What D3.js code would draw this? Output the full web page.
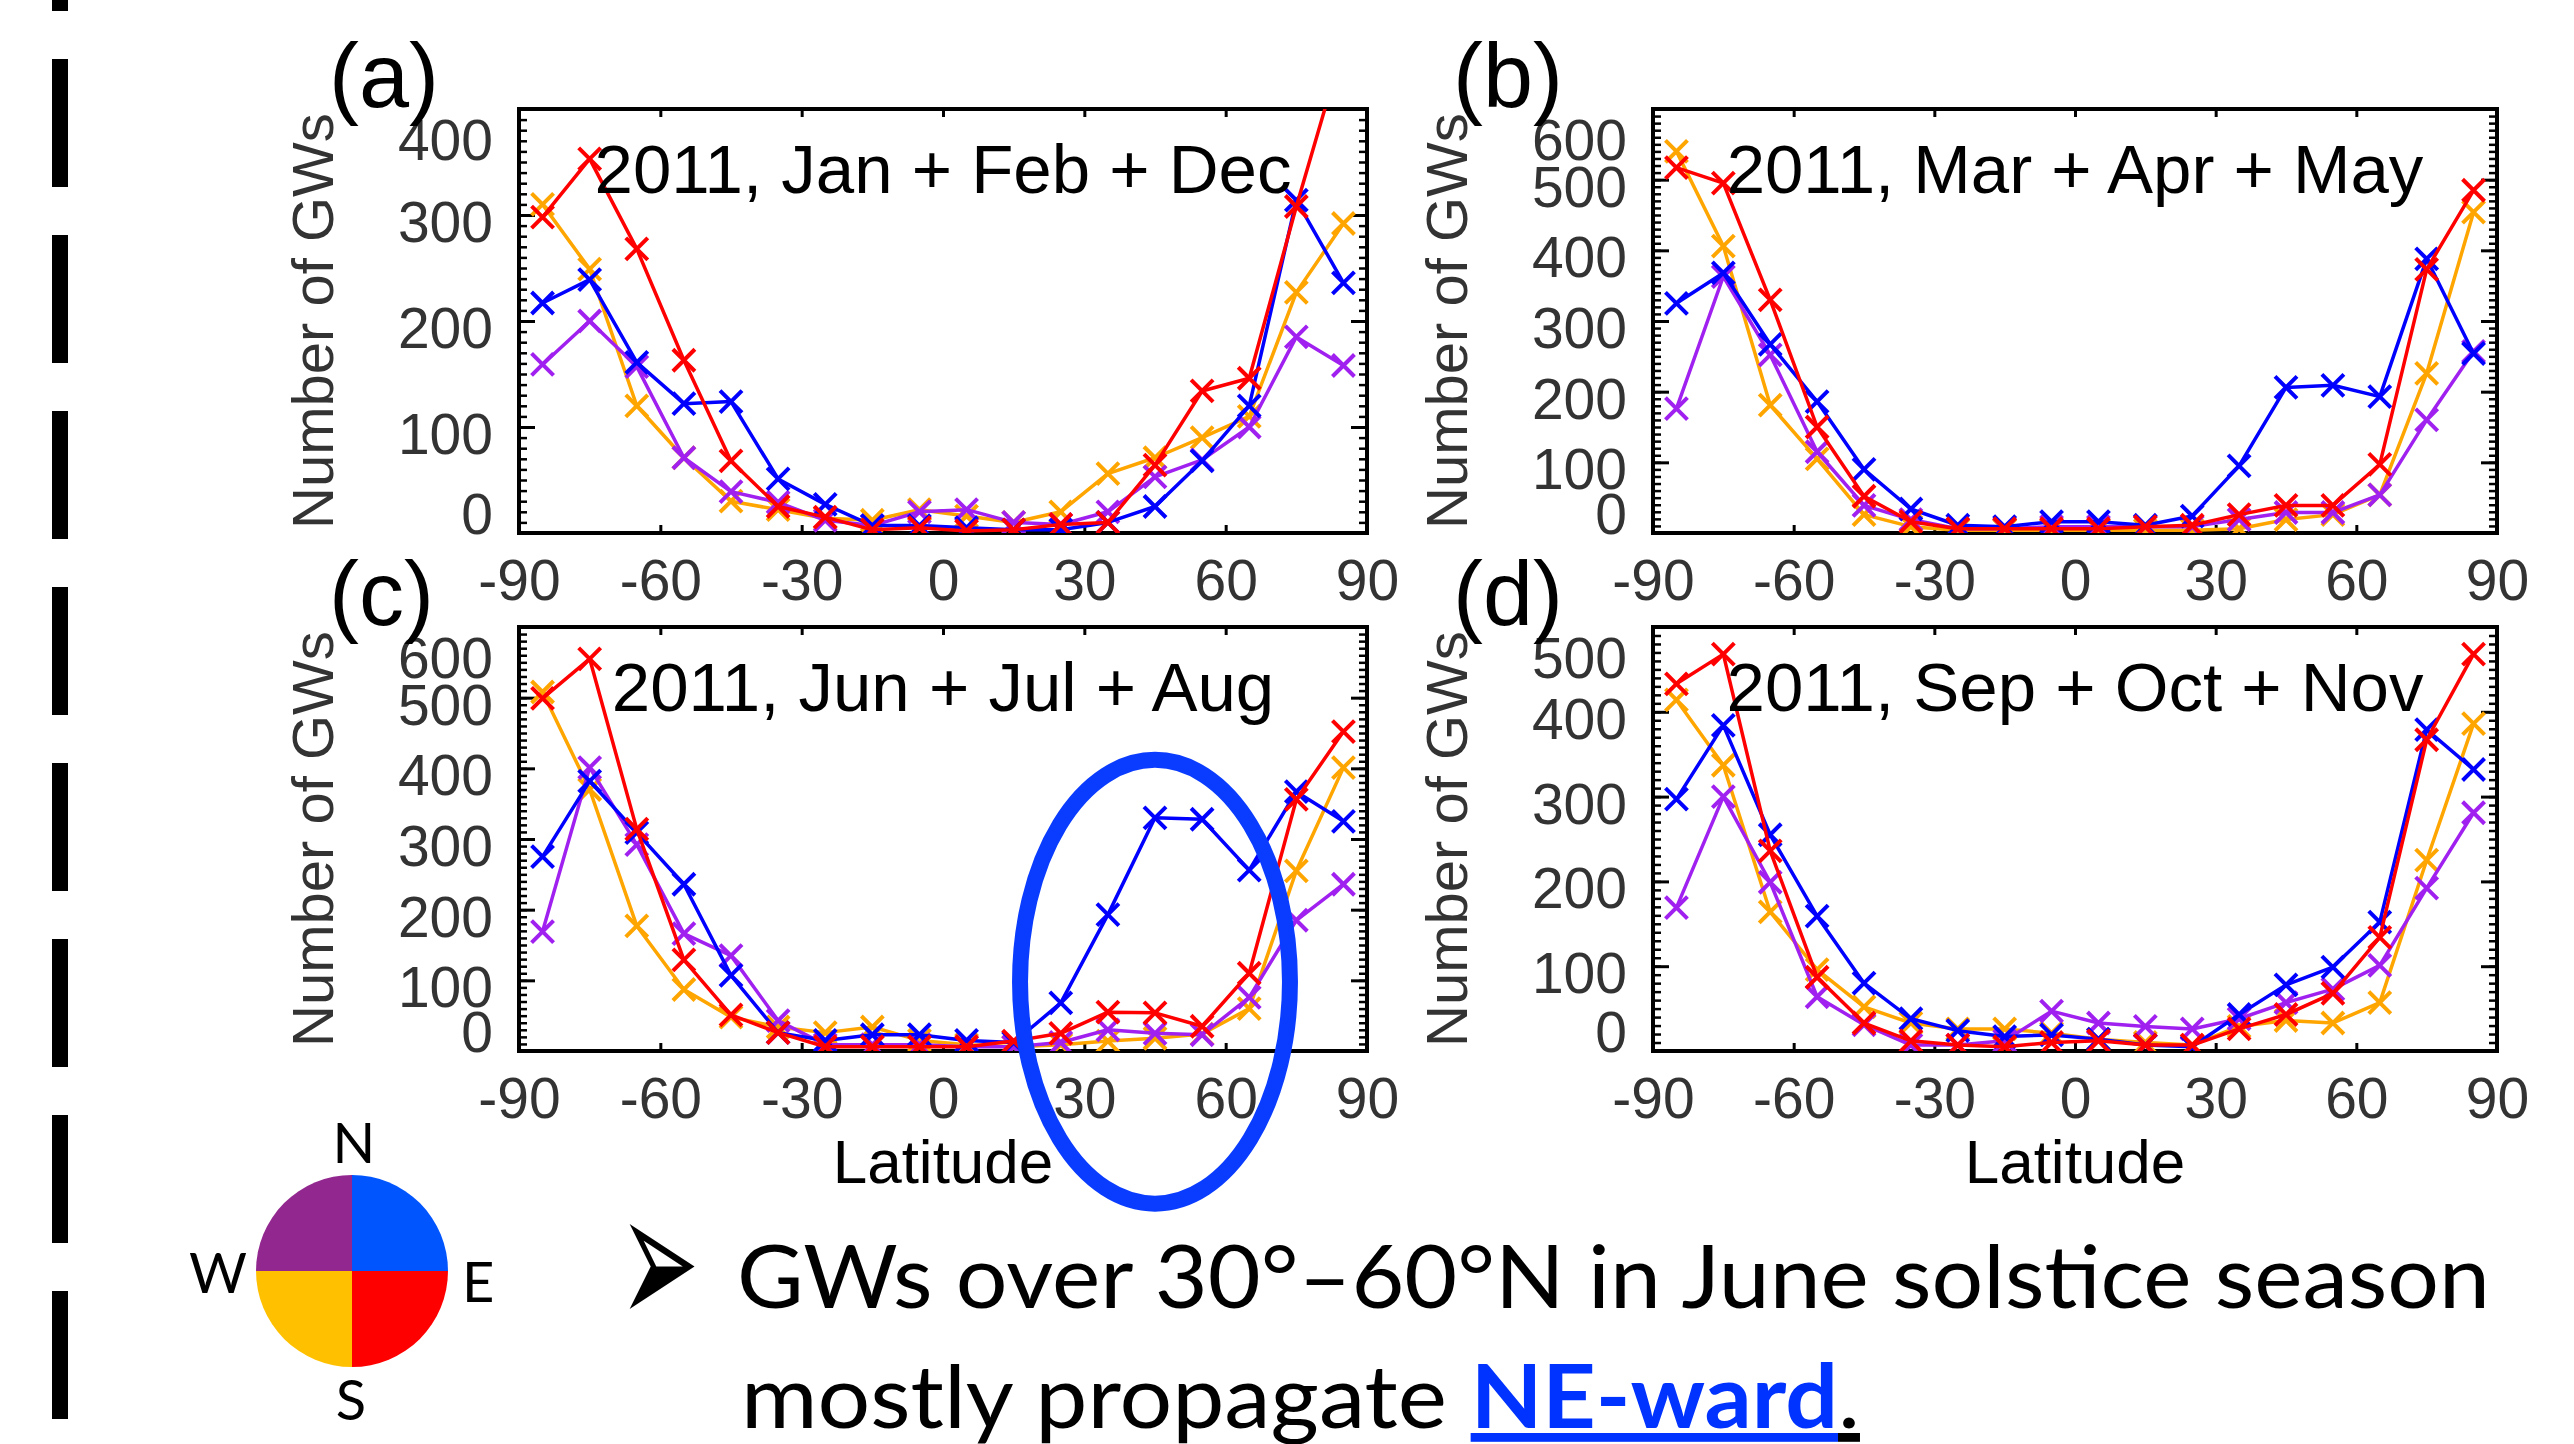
<!DOCTYPE html>
<html><head><meta charset="utf-8">
<script src="https://cdn.jsdelivr.net/npm/d3@7"></script>
<style>html,body{margin:0;padding:0;background:#fff;overflow:hidden} svg{display:block}</style>
</head><body>
<script>
// ---------- data ----------
const latitudes = [-85,-75,-65,-55,-45,-35,-25,-15,-5,5,15,25,35,45,55,65,75,85];
const xTickValues = [-90,-60,-30,0,30,60,90];
const xTickLabels = ["-90","-60","-30","0","30","60","90"];
const panelLetters = ["(a)","(b)","(c)","(d)"];
const panelTitles = ["2011, Jan + Feb + Dec","2011, Mar + Apr + May","2011, Jun + Jul + Aug","2011, Sep + Oct + Nov"];
const panelYMax = [400,600,600,500];
const seriesNames = ["SW","NW","NE","SE"];
const seriesColors = ["#FFA500","#A020F0","#0000FF","#FF0000"];

// (a) Jan + Feb + Dec
const aSW = [310,249,120,71,30,22,14,12,22,16,10,20,56,71,90,110,227,292];
const aNW = [159,200,157,71,39,29,12,7,20,22,10,8,20,53,69,100,185,158];
const aNE = [217,239,161,122,124,51,27,7,7,5,3,3,10,25,68,120,314,236];
const aSE = [298,353,268,163,68,25,15,3,5,2,3,8,10,64,134,146,308,460];
// (b) Mar + Apr + May
const bSW = [540,406,181,105,26,9,4,4,4,4,4,4,6,19,26,54,226,454];
const bNW = [176,363,252,115,39,19,6,6,9,9,9,9,19,29,29,54,160,257];
const bNE = [325,368,267,186,90,34,11,9,16,16,11,24,95,206,209,193,388,254];
const bSE = [517,495,330,150,52,16,6,6,6,6,9,11,26,39,39,97,373,485];
// (c) Jun + Jul + Aug
const cSW = [508,370,177,87,48,34,26,34,15,9,6,9,14,18,24,60,255,401];
const cNW = [169,401,292,166,135,43,9,9,9,6,6,12,30,25,23,76,185,236];
const cNE = [275,382,309,236,107,26,15,23,23,15,12,68,193,330,328,256,367,325];
const cSE = [499,555,314,129,51,26,6,6,6,6,14,25,55,54,35,110,356,452];
// (d) Sep + Oct + Nov
const dSW = [414,337,164,96,52,33,26,26,21,14,10,7,29,36,33,57,225,386];
const dNW = [169,300,199,64,31,7,7,12,47,33,29,26,38,57,73,101,192,281];
const dNE = [297,384,255,159,80,38,24,17,19,14,7,5,43,78,99,152,379,332];
const dSE = [433,468,236,87,33,12,7,5,10,12,7,7,26,43,68,134,367,468];

const panelSeries = [[aSW,aNW,aNE,aSE],[bSW,bNW,bNE,bSE],[cSW,cNW,cNE,cSE],[dSW,dNW,dNE,dSE]];

// compass legend
const compassDirs = ["NE","SE","SW","NW"];
const compassColors = ["#0055FF","#FF0000","#FFC000","#92278F"];

// ---------- layout ----------
const W = 2574, H = 1444;
const colLeft = [519,1653], colWidth = [848,844], rowTop = [109,627], plotH = 424;
const tickFont = "'Liberation Sans', Arial, Helvetica, sans-serif";
const textFont = "Lato, 'Open Sans', sans-serif";

const svg = d3.select("body").append("svg").attr("width",W).attr("height",H);

// dashed separator on the left
svg.append("line").attr("x1",60).attr("x2",60).attr("y1",-117).attr("y2",H)
  .attr("stroke","#000").attr("stroke-width",16).attr("stroke-dasharray","128 48");

panelSeries.forEach((series,i)=>{
  const col = i%2, row = Math.floor(i/2);
  const L = colLeft[col], T = rowTop[row], PW = colWidth[col];
  const x = d3.scaleLinear().domain([-90,90]).range([0,PW]);
  const y = d3.scaleLinear().domain([0,panelYMax[i]]).range([plotH,0]);
  const g = svg.append("g").attr("transform",`translate(${L},${T})`);

  const clipId = "clip"+i;
  g.append("clipPath").attr("id",clipId).append("rect").attr("width",PW).attr("height",plotH);

  const styleAxis = (sel)=>{ sel.select(".domain").remove(); sel.selectAll("line").attr("stroke","#000").attr("stroke-width",3); };
  g.append("g").attr("transform",`translate(0,${plotH})`)
    .call(d3.axisBottom(x).tickValues(xTickValues).tickSize(-8).tickPadding(0)
      .tickFormat((d,k)=>xTickLabels[k]))
    .call(styleAxis)
    .call(s=>s.selectAll("text").attr("y",67).attr("dy",null)
      .attr("font-family",tickFont).attr("font-size",57).attr("fill","#333"));
  g.append("g").call(d3.axisTop(x).tickValues(xTickValues).tickSize(-8).tickFormat(""))
    .call(styleAxis);
  const yMajor = d3.range(0,panelYMax[i]+1,100);
  const yMinor = d3.range(0,panelYMax[i]+1,10);
  g.append("g").call(d3.axisLeft(y).tickValues(yMinor).tickSize(-8).tickFormat("")).call(styleAxis)
    .call(s=>s.selectAll("line").attr("stroke-width",2.5));
  g.append("g").attr("transform",`translate(${PW},0)`)
    .call(d3.axisRight(y).tickValues(yMinor).tickSize(-8).tickFormat("")).call(styleAxis)
    .call(s=>s.selectAll("line").attr("stroke-width",2.5));
  g.append("g").attr("transform",`translate(${PW},0)`)
    .call(d3.axisRight(y).tickValues(yMajor).tickSize(-16).tickFormat("")).call(styleAxis);
  const gy = g.append("g").call(d3.axisLeft(y).tickValues(yMajor).tickSize(-16).tickPadding(0)
      .tickFormat(d=>String(d))).call(styleAxis);
  gy.selectAll("text").each(function(v){
      const py = y(v);
      const c = Math.max(30, Math.min(py+6, plotH-20));
      d3.select(this).attr("x",-26).attr("y",c-py).attr("dy","0.36em");
    })
    .attr("font-family",tickFont).attr("font-size",57).attr("fill","#333").attr("text-anchor","end");

  // frame
  g.append("rect").attr("width",PW).attr("height",plotH).attr("fill","none")
    .attr("stroke","#000").attr("stroke-width",4);

  // series
  const plot = g.append("g").attr("clip-path",`url(#${clipId})`);
  const line = d3.line().x((d,k)=>x(latitudes[k])).y(d=>y(d));
  series.forEach((vals,s)=>{
    const col = seriesColors[s];
    plot.append("path").datum(vals).attr("d",line).attr("fill","none")
      .attr("stroke",col).attr("stroke-width",3.5).attr("stroke-linejoin","round");
    const m = 11;
    plot.append("g").selectAll("path").data(vals).join("path")
      .attr("d",(d,k)=>{const px=x(latitudes[k]), py=y(d);
        return `M${px-m},${py-m}L${px+m},${py+m}M${px-m},${py+m}L${px+m},${py-m}`;})
      .attr("stroke",col).attr("stroke-width",4).attr("fill","none");
  });

  // title
  g.append("text").attr("x",PW/2).attr("y",84).attr("text-anchor","middle")
    .attr("font-family",tickFont).attr("font-size",69).attr("fill","#000").text(panelTitles[i]);
  // y title
  g.append("text").attr("transform",`translate(-186,${plotH/2}) rotate(-90)`).attr("text-anchor","middle")
    .attr("font-family",tickFont).attr("font-size",58).attr("fill","#333").text("Number of GWs");
  // panel letter
  g.append("text").attr("x",col===0?-190:-200).attr("y",-2)
    .attr("font-family",tickFont).attr("font-size",90).attr("fill","#000").text(panelLetters[i]);
  // latitude label
  if(row===1){
    g.append("text").attr("x",PW/2).attr("y",plotH+132).attr("text-anchor","middle")
      .attr("font-family",tickFont).attr("font-size",62).attr("fill","#000").text("Latitude");
  }
  // highlight ellipse in (c)
  if(i===2){
    const cx = x(45), cy = y(98);
    g.append("ellipse").attr("cx",cx).attr("cy",cy)
      .attr("rx",x(45+28.65)-cx).attr("ry",cy-y(98+314))
      .attr("fill","none").attr("stroke","#0A3CFF").attr("stroke-width",16);
  }
});

// compass legend
const comp = svg.append("g").attr("transform","translate(352,1271)");
const arc = d3.arc().innerRadius(0).outerRadius(96);
compassDirs.forEach((dname,k)=>{
  comp.append("path").attr("d",arc({startAngle:k*Math.PI/2,endAngle:(k+1)*Math.PI/2}))
    .attr("fill",compassColors[k]);
});
const compassLabels = [["N",354,1163,"middle"],["W",218,1293,"middle"],["E",462,1302,"start"],["S",351,1420,"middle"]];
compassLabels.forEach(([t,px,py,a])=>{
  svg.append("text").attr("x",px).attr("y",py).attr("text-anchor",a)
    .attr("font-family",textFont).attr("font-size",56).attr("fill","#000").text(t);
});

// bullet text
svg.append("text").attr("transform","translate(619,1327) scale(1.14,2.3)")
  .attr("font-family","'DejaVu Sans', sans-serif")
  .attr("font-size",84).attr("fill","#000").text("\u27A2");
svg.append("text").attr("x",737).attr("y",1308).attr("font-family",textFont).attr("font-size",88)
  .attr("textLength",1753).attr("lengthAdjust","spacingAndGlyphs").attr("fill","#000")
  .text("GWs over 30°–60°N in June solstice season");
const t2 = svg.append("text").attr("x",741).attr("y",1428).attr("font-family",textFont).attr("font-size",88)
  .attr("textLength",1119).attr("lengthAdjust","spacingAndGlyphs").attr("fill","#000");
t2.append("tspan").text("mostly propagate ");
t2.append("tspan").attr("fill","#0033FF").attr("font-weight","bold").style("text-decoration","underline").text("NE-ward");
t2.append("tspan").attr("fill","#000").style("text-decoration","underline").text(".");
</script>
</body></html>
